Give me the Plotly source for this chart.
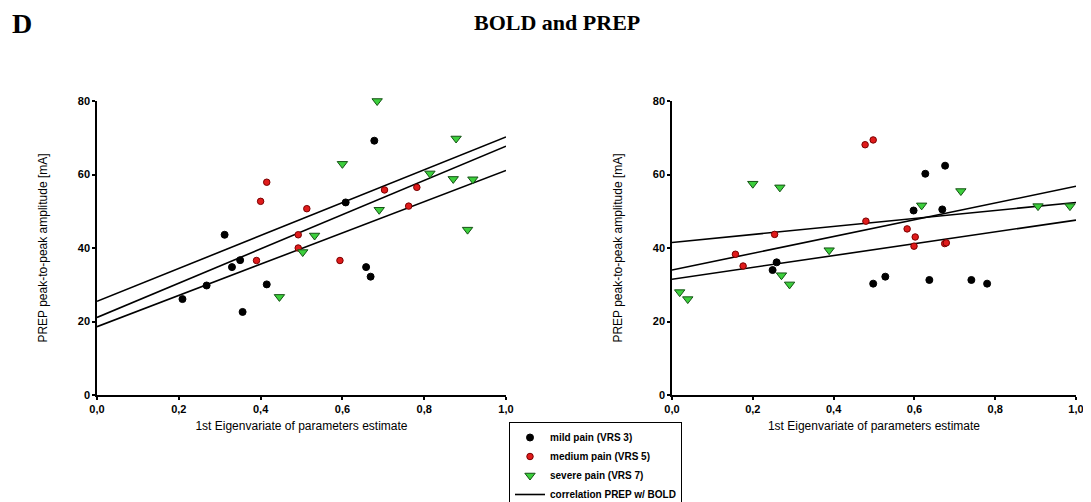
import plotly.graph_objects as go

# the page body adds an 8px margin, so the figure is drawn smaller and offset
OFF = 8
W, H = 1091 - 2 * OFF, 502 - OFF

# ---------------- data: left panel ----------------
left_mild_x = [0.209, 0.268, 0.312, 0.330, 0.350, 0.356, 0.415, 0.608, 0.658, 0.669, 0.678]
left_mild_y = [26.1, 29.8, 43.6, 34.8, 36.7, 22.6, 30.1, 52.4, 34.8, 32.2, 69.2]
left_medium_x = [0.390, 0.400, 0.415, 0.492, 0.492, 0.513, 0.594, 0.703, 0.762, 0.782]
left_medium_y = [36.6, 52.7, 57.9, 43.6, 40.0, 50.7, 36.6, 55.8, 51.4, 56.5]
left_severe_x = [0.446, 0.503, 0.532, 0.600, 0.685, 0.690, 0.814, 0.871, 0.878, 0.906, 0.919]
left_severe_y = [26.7, 38.9, 43.4, 62.9, 80.0, 50.4, 60.3, 58.8, 69.8, 45.0, 58.7]
left_line_x = [0.0, 1.0]
left_line_start = [25.5, 21.1, 18.6]
left_line_end = [70.2, 67.7, 61.1]

# ---------------- data: right panel ----------------
right_mild_x = [0.249, 0.259, 0.498, 0.528, 0.598, 0.627, 0.637, 0.669, 0.676, 0.741, 0.780]
right_mild_y = [34.0, 36.1, 30.3, 32.2, 50.2, 60.2, 31.3, 50.5, 62.4, 31.3, 30.3]
right_medium_x = [0.157, 0.176, 0.254, 0.478, 0.498, 0.480, 0.582, 0.602, 0.599, 0.675, 0.679]
right_medium_y = [38.3, 35.1, 43.7, 68.1, 69.4, 47.3, 45.2, 43.0, 40.5, 41.2, 41.4]
right_severe_x = [0.019, 0.039, 0.200, 0.267, 0.271, 0.291, 0.389, 0.618, 0.715, 0.906, 0.985]
right_severe_y = [28.0, 26.1, 57.5, 56.5, 32.6, 30.1, 39.4, 51.6, 55.5, 51.4, 51.4]
right_line_x = [0.0, 1.0]
right_line_start = [34.0, 41.5, 31.5]
right_line_end = [56.8, 52.4, 47.6]

x_ticks = [0.0, 0.2, 0.4, 0.6, 0.8, 1.0]
y_ticks = [0, 20, 40, 60, 80]

series_names = ["mild pain (VRS 3)", "medium pain (VRS 5)", "severe pain (VRS 7)"]
line_name = "correlation PREP w/ BOLD"

title_text = "BOLD and PREP"
panel_label = "D"
x_title = "1st Eigenvariate of parameters estimate"
y_title = "PREP peak-to-peak amplitude [mA]"


def px_x(p):
    return (p - OFF) / W


def px_y(p):
    return 1 - (p - OFF) / H


# ---------------- styles ----------------
styles = [
    dict(symbol="circle", size=7, color="#000000", line=dict(color="#000000", width=1)),
    dict(symbol="circle", size=6.5, color="#e01b1b", line=dict(color="#7a0000", width=1)),
    dict(symbol="triangle-down", size=9, color="#3ccf3c", line=dict(color="#145214", width=1)),
]

fig = go.Figure()

panels = [
    ("x", "y", [(left_mild_x, left_mild_y), (left_medium_x, left_medium_y), (left_severe_x, left_severe_y)],
     left_line_x, left_line_start, left_line_end, True),
    ("x2", "y2", [(right_mild_x, right_mild_y), (right_medium_x, right_medium_y), (right_severe_x, right_severe_y)],
     right_line_x, right_line_start, right_line_end, False),
]

for xa, ya, groups, lx, ls, le, show in panels:
    for i, (s, e) in enumerate(zip(ls, le)):
        fig.add_trace(go.Scatter(
            x=lx, y=[s, e], xaxis=xa, yaxis=ya, mode="lines",
            line=dict(color="#000000", width=1.6),
            name=line_name, legendgroup="corr", legendrank=4,
            showlegend=(show and i == 0), hoverinfo="skip",
        ))
    for k, (gx, gy) in enumerate(groups):
        fig.add_trace(go.Scatter(
            x=gx, y=gy, xaxis=xa, yaxis=ya, mode="markers",
            marker=styles[k], name=series_names[k], legendgroup=series_names[k],
            legendrank=k + 1, showlegend=show, cliponaxis=False,
        ))

axis_common = dict(
    showgrid=False, zeroline=False, showline=True, linecolor="#000000", linewidth=1.5,
    ticks="outside", ticklen=3, tickwidth=1.5, tickcolor="#000000", automargin=False,
    ticklabeloverflow="allow",
    tickfont=dict(family="Liberation Sans, Arial", size=11, color="#000000", weight="bold"),
)
title_font = dict(family="Liberation Sans, Arial", size=12, color="#000000")

xdom_left = [px_x(97), px_x(506)]
xdom_right = [px_x(672), px_x(1076)]
ydom = [px_y(395), px_y(101)]

fig.update_layout(
    width=W, height=H,
    margin=dict(l=0, r=0, t=0, b=0, autoexpand=False),
    paper_bgcolor="#ffffff", plot_bgcolor="#ffffff",
    separators=",.",
    showlegend=True,
    legend=dict(
        x=px_x(509), y=px_y(422), xanchor="left", yanchor="top",
        bordercolor="#000000", borderwidth=1, bgcolor="#ffffff",
        font=dict(family="Liberation Sans, Arial", size=10, color="#000000", weight="bold"),
        tracegroupgap=0, itemwidth=30,
    ),
    xaxis=dict(domain=xdom_left, anchor="y", range=[0, 1], tickvals=x_ticks, tickformat=".1f",
               title=dict(text=x_title, font=title_font, standoff=8), **axis_common),
    yaxis=dict(domain=ydom, anchor="x", range=[0, 80], tickvals=y_ticks,
               title=dict(text=y_title, font=title_font, standoff=28), **axis_common),
    xaxis2=dict(domain=xdom_right, anchor="y2", range=[0, 1], tickvals=x_ticks, tickformat=".1f",
                title=dict(text=x_title, font=title_font, standoff=8), **axis_common),
    yaxis2=dict(domain=ydom, anchor="x2", range=[0, 80], tickvals=y_ticks,
                title=dict(text=y_title, font=title_font, standoff=28), **axis_common),
    annotations=[
        dict(text=title_text, x=px_x(557), y=px_y(22), xref="paper", yref="paper",
             xanchor="center", yanchor="middle", showarrow=False,
             font=dict(family="Liberation Serif, Times New Roman", size=22, color="#000000", weight="bold")),
        dict(text=panel_label, x=px_x(10), y=px_y(23), xref="paper", yref="paper",
             xanchor="left", yanchor="middle", showarrow=False,
             font=dict(family="Liberation Serif, Times New Roman", size=28, color="#000000", weight="bold")),
    ],
)

fig.write_html("out.html")
